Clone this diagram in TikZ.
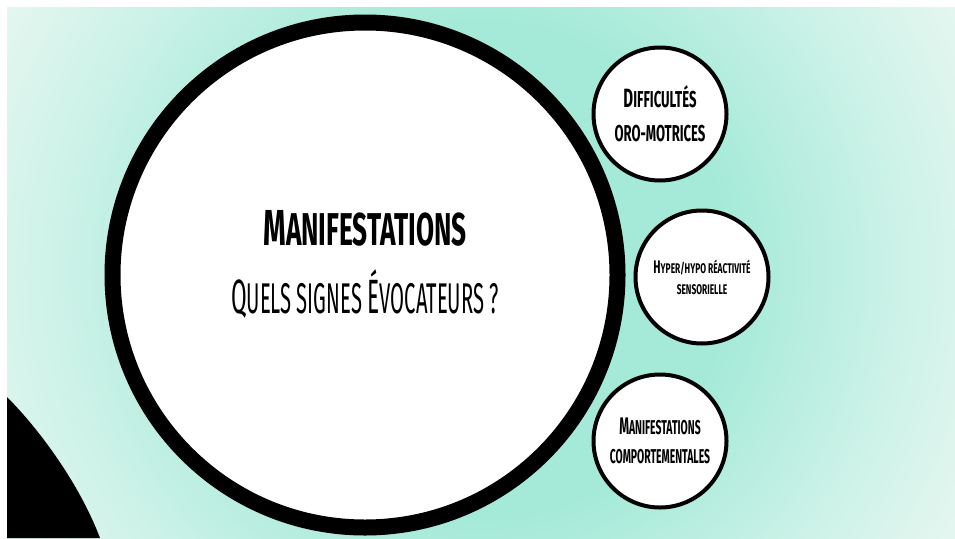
\documentclass[tikz,border=0pt]{standalone}
\usepackage{fontspec}
\newfontfamily\handfont[FakeStretch=0.5]{Fira Sans}
\usetikzlibrary{positioning}
\definecolor{mintcore}{HTML}{A5EAD8}
\definecolor{mintmid}{HTML}{CDF2E8}
\definecolor{mintpale}{HTML}{E8F7F1}
\definecolor{mintedge}{HTML}{F5FAF8}
\pgfdeclareradialshading{mintglow}{\pgfpoint{0bp}{0bp}}{%
  color(0bp)=(mintcore); color(4.8bp)=(mintcore); color(8.1bp)=(mintmid);
  color(10.8bp)=(mintpale); color(13.1bp)=(mintedge); color(50bp)=(mintedge)}
\newcommand\initial[2][1.15]{\scalebox{#1}{#2}}

\begin{document}
\begin{tikzpicture}[x=1pt, y=-1pt,
    every node/.style={font=\handfont},
    bigring/.style={draw=black, line width=16pt, circle, fill=white,
                    minimum size=505pt, inner sep=0pt},
    topic/.style={draw=black, line width=4pt, circle, fill=white,
                  minimum size=133pt, inner sep=0pt, align=center},
    heading/.style={font=\handfont\addfontfeature{FakeStretch=0.57}\bfseries\fontsize{46}{46}\selectfont, inner sep=0pt},
    subheading/.style={font=\handfont\addfontfeature{FakeStretch=0.47}\fontsize{43}{43}\selectfont, inner sep=0pt}
]
\useasboundingbox (0,0) rectangle (955,538);

% --- Background: white margin, mint glow, black corner ---
\fill[white] (0,0) rectangle (955,538);
\begin{scope}
  \clip (7,7) rectangle (955,538);
  \shade[shading=mintglow] (480,270) circle (1300);
\end{scope}
\fill[black] (7,397) .. controls (40,430) and (80,485) .. (100,538) -- (7,538) -- cycle;

% --- Main circle ---
\node[bigring] (main) at (365,275) {};
\node[heading] (title) at (365,228) {\initial[1.1]{M}ANIFESTATIONS};
\node[subheading] (question) at (365,294) {\initial[1.12]{Q}UELS SIGNES \initial[1.12]{É}VOCATEURS ?};

% --- Three topics ---
\node[topic, font=\handfont\addfontfeature{FakeStretch=0.57}\bfseries\fontsize{23}{34}\selectfont] (oro) at (660,114)
    {\initial{D}IFFICULTÉS\\ORO-MOTRICES};
\node[topic, font=\handfont\addfontfeature{FakeStretch=0.6}\bfseries\fontsize{14}{21}\selectfont] (sens) at (702,277)
    {\initial[1.3]{H}YPER/HYPO RÉACTIVITÉ\\SENSORIELLE};
\node[topic, font=\handfont\addfontfeature{FakeStretch=0.52}\bfseries\fontsize{20}{29}\selectfont] (behav) at (660,441)
    {\initial[1.2]{M}ANIFESTATIONS\\COMPORTEMENTALES};

\end{tikzpicture}
\end{document}
